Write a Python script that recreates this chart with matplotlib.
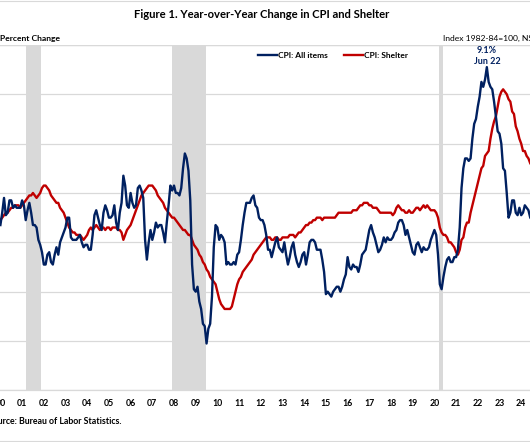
import numpy as np
import matplotlib
matplotlib.use("Agg")
import matplotlib.pyplot as plt
from matplotlib.lines import Line2D

plt.rcParams['font.family'] = ['Lato', 'DejaVu Sans']

# ---------------- data ----------------
start_year = 2000
cpi_all = [
    2.7, 3.2, 3.8, 3.1, 3.2, 3.7, 3.7, 3.4, 3.5, 3.4, 3.4, 3.4,
    3.7, 3.5, 2.9, 3.3, 3.6, 3.2, 2.7, 2.7, 2.6, 2.1, 1.9, 1.6,
    1.1, 1.1, 1.5, 1.6, 1.2, 1.1, 1.5, 1.8, 1.5, 2.0, 2.2, 2.4,
    2.6, 3.0, 3.0, 2.2, 2.1, 2.1, 2.1, 2.2, 2.3, 2.0, 1.8, 1.9,
    1.9, 1.7, 1.7, 2.3, 3.1, 3.3, 3.0, 2.7, 2.5, 3.2, 3.5, 3.3,
    3.0, 3.0, 3.1, 3.5, 2.8, 2.5, 3.2, 3.6, 4.7, 4.3, 3.5, 3.4,
    4.0, 3.6, 3.4, 3.5, 4.2, 4.3, 4.1, 3.8, 2.1, 1.3, 2.0, 2.5,
    2.1, 2.4, 2.8, 2.6, 2.7, 2.7, 2.4, 2.0, 2.8, 3.5, 4.3, 4.1,
    4.3, 4.0, 4.0, 3.9, 4.2, 5.0, 5.6, 5.4, 4.9, 3.7, 1.1, 0.1,
    0.0, 0.2, -0.4, -0.7, -1.3, -1.4, -2.1, -1.5, -1.3, -0.2, 1.8, 2.7,
    2.6, 2.1, 2.3, 2.2, 2.0, 1.1, 1.2, 1.1, 1.1, 1.2, 1.1, 1.5,
    1.6, 2.1, 2.7, 3.2, 3.6, 3.6, 3.6, 3.8, 3.9, 3.5, 3.4, 3.0,
    2.9, 2.9, 2.7, 2.3, 1.7, 1.7, 1.4, 1.7, 2.0, 2.2, 1.8, 1.7,
    1.6, 2.0, 1.5, 1.1, 1.4, 1.8, 2.0, 1.5, 1.2, 1.0, 1.2, 1.5,
    1.6, 1.1, 1.5, 2.0, 2.1, 2.1, 2.0, 1.7, 1.7, 1.7, 1.3, 0.8,
    -0.1, 0.0, -0.1, -0.2, 0.0, 0.1, 0.2, 0.2, 0.0, 0.2, 0.5, 0.7,
    1.4, 1.0, 0.9, 1.1, 1.0, 1.0, 0.8, 1.1, 1.5, 1.6, 1.7, 2.1,
    2.5, 2.7, 2.4, 2.2, 1.9, 1.6, 1.7, 1.9, 2.2, 2.0, 2.2, 2.1,
    2.1, 2.2, 2.4, 2.5, 2.8, 2.9, 2.9, 2.7, 2.3, 2.5, 2.2, 1.9,
    1.6, 1.5, 1.9, 2.0, 1.8, 1.6, 1.8, 1.7, 1.7, 1.8, 2.1, 2.3,
    2.5, 2.3, 1.5, 0.3, 0.1, 0.6, 1.0, 1.3, 1.4, 1.2, 1.2, 1.4,
    1.4, 1.7, 2.6, 4.2, 5.0, 5.4, 5.4, 5.3, 5.4, 6.2, 6.8, 7.0,
    7.5, 7.9, 8.5, 8.3, 8.6, 9.1, 8.5, 8.3, 8.2, 7.7, 7.1, 6.5,
    6.4, 6.0, 5.0, 4.9, 4.0, 3.0, 3.2, 3.7, 3.7, 3.2, 3.1, 3.4,
    3.1, 3.2, 3.5, 3.4, 3.3, 3.0, 2.9, 2.5,
]
cpi_shelter = [
    2.9, 3.0, 3.1, 3.2, 3.2, 3.3, 3.4, 3.4, 3.5, 3.5, 3.5, 3.4,
    3.5, 3.6, 3.7, 3.8, 3.9, 3.9, 4.0, 3.9, 3.8, 3.9, 4.0, 4.2,
    4.3, 4.3, 4.2, 4.1, 3.9, 3.8, 3.7, 3.6, 3.6, 3.4, 3.3, 3.2,
    3.0, 2.8, 2.6, 2.5, 2.4, 2.4, 2.3, 2.3, 2.3, 2.2, 2.1, 2.2,
    2.3, 2.5, 2.6, 2.5, 2.6, 2.7, 2.6, 2.5, 2.6, 2.6, 2.5, 2.6,
    2.6, 2.5, 2.6, 2.6, 2.6, 2.5, 2.5, 2.4, 2.1, 2.3, 2.5, 2.6,
    2.7, 2.9, 3.1, 3.3, 3.5, 3.7, 3.9, 4.0, 4.1, 4.2, 4.3, 4.3,
    4.3, 4.2, 4.1, 3.9, 3.8, 3.7, 3.6, 3.4, 3.3, 3.2, 3.1, 3.0,
    3.0, 2.9, 2.8, 2.7, 2.6, 2.5, 2.5, 2.4, 2.3, 2.3, 2.1, 1.9,
    1.8, 1.7, 1.5, 1.4, 1.2, 1.1, 0.9, 0.8, 0.6, 0.5, 0.4, 0.3,
    0.0, -0.3, -0.5, -0.6, -0.7, -0.7, -0.7, -0.7, -0.6, -0.3, 0.0, 0.3,
    0.5, 0.6, 0.8, 0.9, 1.0, 1.1, 1.2, 1.3, 1.5, 1.6, 1.7, 1.8,
    1.9, 2.0, 2.1, 2.2, 2.2, 2.2, 2.1, 2.1, 2.2, 2.2, 2.1, 2.1,
    2.2, 2.2, 2.2, 2.2, 2.3, 2.3, 2.3, 2.2, 2.3, 2.4, 2.4, 2.5,
    2.6, 2.7, 2.7, 2.8, 2.8, 2.9, 2.9, 3.0, 3.0, 3.0, 2.9, 3.0,
    3.0, 3.0, 3.0, 3.0, 3.0, 3.0, 3.1, 3.2, 3.2, 3.2, 3.2, 3.2,
    3.2, 3.2, 3.2, 3.3, 3.3, 3.3, 3.4, 3.5, 3.5, 3.6, 3.6, 3.6,
    3.5, 3.5, 3.4, 3.4, 3.4, 3.3, 3.2, 3.2, 3.2, 3.2, 3.2, 3.2,
    3.2, 3.1, 3.2, 3.4, 3.5, 3.4, 3.3, 3.3, 3.2, 3.2, 3.3, 3.2,
    3.2, 3.3, 3.4, 3.4, 3.3, 3.4, 3.5, 3.4, 3.5, 3.4, 3.3, 3.3,
    3.3, 3.2, 3.0, 2.6, 2.4, 2.3, 2.3, 2.2, 2.0, 2.0, 1.9, 1.8,
    1.6, 1.5, 1.7, 2.1, 2.2, 2.6, 2.8, 2.8, 3.2, 3.5, 3.8, 4.1,
    4.4, 4.7, 5.0, 5.1, 5.5, 5.6, 5.7, 6.2, 6.6, 6.9, 7.1, 7.5,
    7.9, 8.1, 8.2, 8.1, 8.0, 7.8, 7.7, 7.3, 7.2, 6.7, 6.5, 6.2,
    6.0, 5.7, 5.7, 5.5, 5.4, 5.2, 5.1, 5.2,
]
recessions = [(2001.17, 2001.87), (2007.92, 2009.46), (2020.20, 2020.40)]
tick_years = list(range(2000, 2025))
tick_labels = [f"{y % 100:02d}" for y in tick_years]
series_names = ["CPI: All items", "CPI: Shelter"]

# ---------------- layout ----------------
W, H = 530, 442
fig = plt.figure(figsize=(W / 100, H / 100), dpi=100)

def px_of(xv):
    return 22.1 + (xv - 2001) * 21.7

xl, xr = 2000 - 1 / 24, 2024.9
y_top_px, y_bot_px = 44.9, 390.4
ax = fig.add_axes([px_of(xl) / W, 1 - y_bot_px / H,
                   (px_of(xr) - px_of(xl)) / W, (y_bot_px - y_top_px) / H])

navy = "#002060"
red = "#C00000"
grid_c = "#D9D9D9"

x_cpi = start_year + np.arange(len(cpi_all)) / 12
x_sh = start_year + np.arange(len(cpi_shelter)) / 12

for a, b in recessions:
    ax.axvspan(a, b, color=grid_c, lw=0, zorder=0)

l1, = ax.plot(x_cpi, cpi_all, color=navy, lw=1.7, zorder=3, label=series_names[0])
l2, = ax.plot(x_sh, cpi_shelter, color=red, lw=1.7, zorder=2, label=series_names[1])

ax.set_xlim(xl, xr)
ax.set_ylim(-4, 10)
ax.set_yticks(np.arange(-4, 11, 2))
ax.grid(axis='y', color=grid_c, lw=0.9, zorder=1)
ax.set_axisbelow(True)
for s in ['left', 'right', 'top']:
    ax.spines[s].set_visible(False)
ax.spines['bottom'].set_color(grid_c)
ax.spines['bottom'].set_linewidth(0.9)
ax.axhline(10, color=grid_c, lw=0.9, zorder=1)

ax.set_xticks(tick_years)
ax.set_xticklabels(tick_labels, fontsize=6.3, fontweight='bold')
ax.tick_params(axis='x', length=0, pad=6)
ax.tick_params(axis='y', length=0, labelleft=False)

# peak annotation
i_pk = int(np.argmax(cpi_all))
ax.annotate(f"{cpi_all[i_pk]:.1f}%\nJun 22", xy=(x_cpi[i_pk], cpi_all[i_pk]),
            xytext=(0, 1.0), textcoords='offset points', ha='center', va='bottom',
            fontsize=6.5, fontweight='bold', color=navy, linespacing=1.3)

# legend
fig.legend(handles=[l1, l2], loc='center left',
           bbox_to_anchor=(258 / W, 1 - 55 / H), ncol=2, frameon=False,
           prop={'size': 6, 'weight': 'bold'}, handlelength=2.3,
           handletextpad=0.05, columnspacing=2.0, borderpad=0, borderaxespad=0)

# texts
fig.text(262 / W, 1 - 15 / H, "Figure 1. Year-over-Year Change in CPI and Shelter",
         ha='center', va='center', fontsize=8.1, fontweight='bold')
fig.text(0 / W, 1 - 38.5 / H, "Percent Change", ha='left', va='center',
         fontsize=6.1, fontweight='bold')
fig.text(443 / W, 1 - 38.5 / H, "Index 1982-84=100, NSA", ha='left', va='center',
         fontsize=6.1)
fig.text(121 / W, 1 - 421.5 / H, "Source: Bureau of Labor Statistics.", ha='right',
         va='center', fontsize=6.3, fontweight='bold')

# frame lines
fig.add_artist(Line2D([0, 1], [1 - 1 / H, 1 - 1 / H], color=grid_c, lw=0.8))
fig.add_artist(Line2D([0, 1], [1 - 440.5 / H, 1 - 440.5 / H], color=grid_c, lw=0.8))

fig.savefig("out.png", dpi=100)
